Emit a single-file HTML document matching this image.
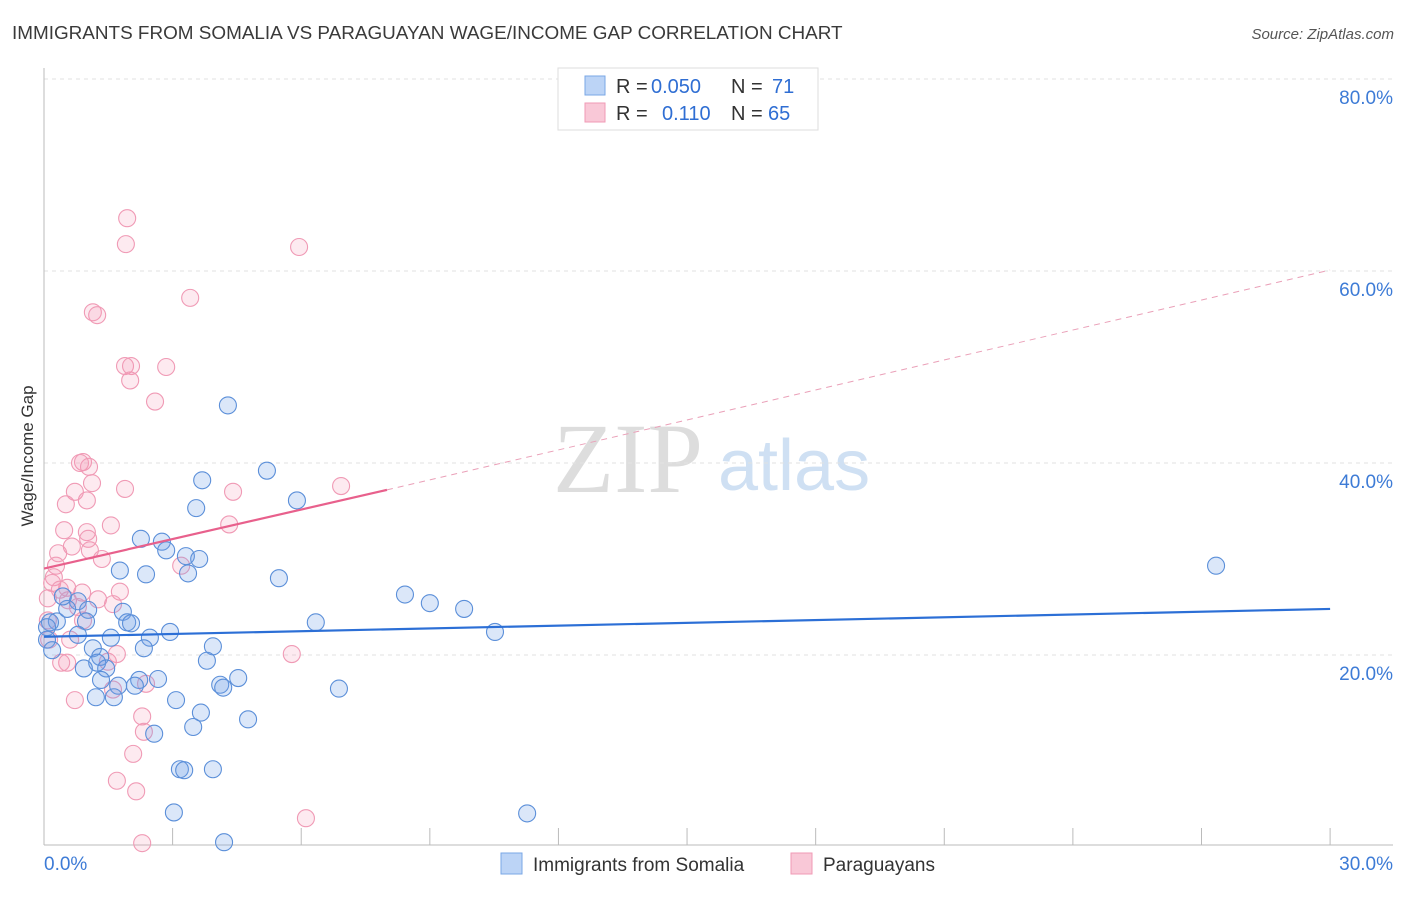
<!DOCTYPE html>
<html><head><meta charset="utf-8"><style>
body{margin:0;background:#fff;font-family:"Liberation Sans",sans-serif;}
svg text{font-family:"Liberation Sans",sans-serif;}
</style></head><body>
<svg width="1406" height="892" xmlns="http://www.w3.org/2000/svg" id="svg">
<text x="12" y="39" font-size="18.9" fill="#3a3a3a">IMMIGRANTS FROM SOMALIA VS PARAGUAYAN WAGE/INCOME GAP CORRELATION CHART</text>
<text x="1394" y="39" font-size="15" fill="#555" text-anchor="end" font-style="italic">Source: ZipAtlas.com</text>
<text x="553" y="492" font-size="100" fill="#ddd" font-family="Liberation Serif" style="font-family:'Liberation Serif',serif">ZIP</text>
<text x="718" y="490" font-size="72" fill="#cfe0f3">atlas</text>
<g id="grid"></g>
<g id="axes"></g>
<g id="pts"></g>
<g id="lines"></g>
<text transform="translate(33,456) rotate(-90)" font-size="17" fill="#333" text-anchor="middle">Wage/Income Gap</text>
<g>
<rect x="558" y="68" width="260" height="62" fill="#fff" stroke="#ddd"/>
<rect x="585" y="76" width="20" height="19" fill="#bcd4f6" stroke="#7aa7e6"/>
<rect x="585" y="103" width="20" height="19" fill="#f9c8d7" stroke="#f09ab5"/>
<text x="616" y="93" font-size="20" fill="#333">R =</text>
<text x="651" y="93" font-size="20" fill="#2f6ed3">0.050</text>
<text x="731" y="93" font-size="20" fill="#333">N =</text>
<text x="772" y="93" font-size="20" fill="#2f6ed3">71</text>
<text x="616" y="120" font-size="20" fill="#333">R =</text>
<text x="662" y="120" font-size="20" fill="#2f6ed3">0.110</text>
<text x="731" y="120" font-size="20" fill="#333">N =</text>
<text x="768" y="120" font-size="20" fill="#2f6ed3">65</text>
</g>
<g>
<rect x="501" y="853" width="21" height="21" fill="#bcd4f6" stroke="#7aa7e6"/>
<text x="533" y="871" font-size="19" fill="#333">Immigrants from Somalia</text>
<rect x="791" y="853" width="21" height="21" fill="#f9c8d7" stroke="#f09ab5"/>
<text x="823" y="871" font-size="19" fill="#333">Paraguayans</text>
</g>
</svg>
<script>
const xTicks=[0,3,6,9,12,15,18,21,24,27,30];
const yTicks=[20,40,60,80];
const blueX=[4.29,5.20,3.69,5.90,3.55,2.26,2.75,2.85,3.31,3.62,1.77,2.38,3.36,5.48,27.34,8.42,9.00,9.80,6.34,10.52,0.79,1.03,1.84,1.94,2.03,0.98,0.30,0.14,0.07,0.79,1.56,2.47,2.94,2.33,3.94,1.14,1.31,1.24,1.45,3.80,0.93,2.22,2.66,1.73,1.33,2.12,4.11,4.18,4.53,6.88,1.21,1.63,3.08,3.66,4.76,3.48,2.57,3.17,3.27,3.94,3.03,11.27,4.20,0.54,0.44,0.07,0.19];
const blueY=[46.0,39.2,38.2,36.1,35.3,32.1,31.8,30.9,30.3,30.0,28.8,28.4,28.5,28.0,29.3,26.3,25.4,24.8,23.4,22.4,25.6,24.7,24.5,23.4,23.3,23.5,23.5,23.4,22.9,22.1,21.8,21.8,22.4,20.7,20.9,20.7,19.8,19.2,18.6,19.4,18.6,17.4,17.5,16.8,17.4,16.8,16.9,16.6,17.6,16.5,15.6,15.6,15.3,14.0,13.3,12.5,11.8,8.1,8.0,8.1,3.6,3.5,0.5,24.8,26.1,21.6,20.5];
const pinkX=[1.94,1.91,5.95,3.41,1.14,1.24,1.89,2.03,2.85,2.01,2.59,0.91,0.84,1.05,1.12,1.89,4.41,6.93,0.72,0.51,1.00,1.56,4.32,0.47,1.00,1.03,0.65,1.07,0.33,1.35,0.28,3.20,0.23,0.19,0.54,0.37,0.89,0.56,1.77,1.26,1.61,0.79,0.09,0.09,0.12,0.54,0.40,1.49,1.70,5.78,0.72,1.61,2.38,2.29,2.33,2.08,1.70,2.15,2.29,6.11,0.61,0.91];
const pinkY=[65.5,62.8,62.5,57.2,55.7,55.4,50.1,50.1,50.0,48.6,46.4,40.1,40.0,39.6,37.9,37.3,37.0,37.6,37.0,35.7,36.1,33.5,33.6,33.0,32.8,32.1,31.3,30.9,30.6,30.0,29.3,29.3,28.1,27.5,27.0,26.8,26.5,25.7,26.6,25.8,25.3,25.0,25.9,23.6,21.6,19.2,19.2,19.3,20.1,20.1,15.3,16.4,17.0,13.6,12.0,9.7,6.9,5.8,0.4,3.0,21.6,23.6];
const blueTrend=[[0,21.9],[30,24.8]];
const pinkTrend=[[0,29.0],[8,37.2],[30,60.1]];
const NS='http://www.w3.org/2000/svg';
const sx=v=>44+v*42.87, sy=v=>847-v*9.6;
function mk(tag,attrs,parent){const e=document.createElementNS(NS,tag);for(const k in attrs)e.setAttribute(k,attrs[k]);document.getElementById(parent).appendChild(e);return e;}
yTicks.forEach(t=>{
 const g=mk('line',{x1:44,x2:1393,y1:sy(t),y2:sy(t),stroke:'#e2e2e2','stroke-dasharray':'4,4'},'grid');
 
 
 const l=mk('text',{x:1393,y:sy(t)+25,'font-size':19,fill:'#3d7bd6','text-anchor':'end'},'grid');
 l.textContent=t.toFixed(1)+'%';
 
 
});
mk('line',{x1:44,x2:44,y1:68,y2:845,stroke:'#bbb'},'axes');
mk('line',{x1:44,x2:1393,y1:845,y2:845,stroke:'#bbb'},'axes');
xTicks.forEach(t=>{
 const e=mk('line',{x1:sx(t),x2:sx(t),y1:828,y2:845,stroke:'#bbb'},'axes');
 
 
});
[[0,'0.0%','start',44],[30,'30.0%','end',1393]].forEach(a=>{
 const e=mk('text',{x:a[3],y:870,'font-size':19,fill:'#3d7bd6','text-anchor':a[2]},'axes');
 e.textContent=a[1];
 
 
});
pinkX.forEach((x,i)=>{
 const c=mk('circle',{cx:sx(x),cy:sy(pinkY[i]),r:8.5,fill:'rgba(243,150,180,0.2)',stroke:'#f09ab5','stroke-width':1.1},'pts');
 
 
});
blueX.forEach((x,i)=>{
 const c=mk('circle',{cx:sx(x),cy:sy(blueY[i]),r:8.5,fill:'rgba(110,160,230,0.25)',stroke:'#5b8fd9','stroke-width':1.1},'pts');
 
 
});
let e=mk('line',{x1:sx(blueTrend[0][0]),y1:sy(blueTrend[0][1]),x2:sx(blueTrend[1][0]),y2:sy(blueTrend[1][1]),stroke:'#2c6fd6','stroke-width':2.2},'lines');


e=mk('line',{x1:sx(pinkTrend[0][0]),y1:sy(pinkTrend[0][1]),x2:sx(pinkTrend[1][0]),y2:sy(pinkTrend[1][1]),stroke:'#e8608c','stroke-width':2.2},'lines');


e=mk('line',{x1:sx(pinkTrend[1][0]),y1:sy(pinkTrend[1][1]),x2:sx(pinkTrend[2][0]),y2:sy(pinkTrend[2][1]),stroke:'#eaa0b8','stroke-width':1,'stroke-dasharray':'6,5'},'lines');


</script>
</body></html>
